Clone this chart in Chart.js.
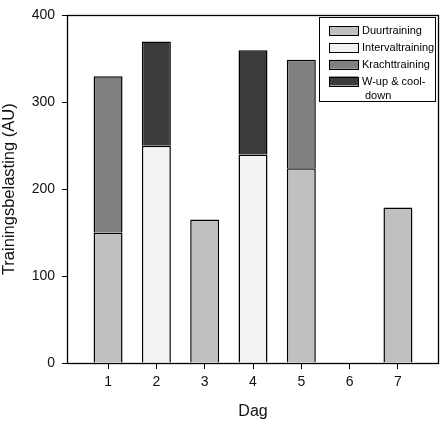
<!DOCTYPE html>
<html>
<head>
<meta charset="utf-8">
<script src="https://cdn.jsdelivr.net/npm/chart.js@4/dist/chart.umd.min.js"></script>
<style>
  html, body { margin: 0; padding: 0; background: #ffffff; }
  #wrap { width: 443px; height: 425px; }
</style>
</head>
<body>
<div id="wrap"><canvas id="c" width="443" height="425"></canvas></div>
<script>
// ---- data ----
const days = [1, 2, 3, 4, 5, 6, 7];
const dayLabels = ['1', '2', '3', '4', '5', '6', '7'];
const yTicks = [0, 100, 200, 300, 400];
const seriesLabels = ['Duurtraining', 'Intervaltraining', 'Krachttraining', 'W-up & cool-down'];
const duurtraining     = [150, null, 165, null, 224, null, 179];
const intervaltraining = [null, 250, null, 240, null, null, null];
const krachttraining   = [180, null, null, null, 125, null, null];
const wupCooldown      = [null, 120, null, 120, null, null, null];
const seriesColors = ['#c0c0c0', '#f2f2f2', '#808080', '#3b3b3b'];

const FONT = "'Liberation Sans', Arial, sans-serif";

function toPoints(arr) { return days.map((d, i) => ({ x: d, y: arr[i] })); }
const seriesData = [duurtraining, intervaltraining, krachttraining, wupCooldown];

const datasets = seriesData.map((arr, i) => ({
  label: seriesLabels[i],
  data: toPoints(arr),
  backgroundColor: seriesColors[i],
  borderColor: '#000000',
  borderWidth: 1.5,
  borderSkipped: 'start',
  barPercentage: 0.6,
  categoryPercentage: 1.0
}));

// Frame around the plot area
const framePlugin = {
  id: 'frame',
  afterDatasetsDraw(chart) {
    const { ctx, chartArea: a } = chart;
    ctx.save();
    ctx.strokeStyle = '#000';
    ctx.lineWidth = 1.3;
    ctx.strokeRect(Math.round(a.left) + 0.5, Math.round(a.top) + 0.5,
                   Math.round(a.right - a.left) - 1, Math.round(a.bottom - a.top));
    ctx.restore();
  }
};

// Legend box inside the plot (top-right)
function wrapLabel(ctx, text, maxW) {
  if (ctx.measureText(text).width <= maxW) return [text];
  const lines = [];
  let cur = '';
  const parts = text.split(/(?<=[-\s])/);
  for (const p of parts) {
    if (cur && ctx.measureText(cur + p).width > maxW) { lines.push(cur); cur = p; }
    else cur += p;
  }
  if (cur) lines.push(cur);
  return lines;
}
const legendPlugin = {
  id: 'boxLegend',
  afterDraw(chart) {
    const { ctx, chartArea: a } = chart;
    const boxL = a.right - 120, boxT = a.top + 2, boxW = 116, boxH = 84;
    ctx.save();
    ctx.fillStyle = '#fff';
    ctx.fillRect(boxL, boxT, boxW, boxH);
    ctx.strokeStyle = '#000';
    ctx.lineWidth = 1;
    ctx.strokeRect(Math.round(boxL) + 0.5, Math.round(boxT) + 0.5, boxW, boxH);
    ctx.font = '11px ' + FONT;
    ctx.textBaseline = 'middle';
    ctx.textAlign = 'left';
    let y = boxT + 9;
    chart.data.datasets.forEach((ds, i) => {
      const sx = boxL + 10, sw = 29, sh = 9;
      ctx.fillStyle = ds.backgroundColor;
      ctx.fillRect(sx, y, sw, sh);
      ctx.strokeStyle = '#000';
      ctx.strokeRect(Math.round(sx) + 0.5, Math.round(y) + 0.5, sw, sh);
      ctx.fillStyle = '#000';
      const lines = wrapLabel(ctx, ds.label, 72);
      lines.forEach((ln, j) => {
        ctx.fillText(ln, sx + sw + 4 + (j > 0 ? 3 : 0), y + sh / 2 + 0.5 + j * 14);
      });
      y += 16.7;
    });
    ctx.restore();
  }
};

new Chart(document.getElementById('c'), {
  type: 'bar',
  data: { datasets },
  plugins: [framePlugin, legendPlugin],
  options: {
    responsive: false,
    animation: false,
    devicePixelRatio: 1,
    layout: { padding: { top: 11, right: 4, left: 0, bottom: 0 } },
    plugins: { legend: { display: false }, tooltip: { enabled: false } },
    scales: {
      x: {
        type: 'linear',
        stacked: true,
        offset: false,
        min: 0.15,
        max: 7.85,
        afterBuildTicks(scale) { scale.ticks = days.map(v => ({ value: v })); },
        afterFit(scale) { scale.height = 62; },
        grid: { offset: false, drawOnChartArea: false, drawTicks: true, tickLength: 6, color: '#000', lineWidth: 1 },
        border: { display: false },
        ticks: {
          padding: 5,
          color: '#111',
          font: { family: FONT, size: 14 },
          callback: (v) => { const i = days.indexOf(v); return i >= 0 ? dayLabels[i] : ''; },
          maxRotation: 0,
          autoSkip: false
        },
        title: {
          display: true,
          text: 'Dag',
          color: '#111',
          font: { family: FONT, size: 16 },
          padding: { top: 0, bottom: 4 }
        }
      },
      y: {
        stacked: true,
        min: 0,
        max: 400,
        afterBuildTicks(scale) { scale.ticks = yTicks.map(v => ({ value: v })); },
        afterFit(scale) { scale.width = 67; },
        grid: { drawOnChartArea: false, drawTicks: true, tickLength: 5, color: '#000', lineWidth: 1 },
        border: { display: false },
        ticks: {
          padding: 7,
          color: '#111',
          font: { family: FONT, size: 14 }
        },
        title: {
          display: true,
          text: 'Trainingsbelasting (AU)',
          color: '#111',
          font: { family: FONT, size: 16.5 },
          padding: { top: 0, bottom: 0 }
        }
      }
    }
  }
});
</script>
</body>
</html>
